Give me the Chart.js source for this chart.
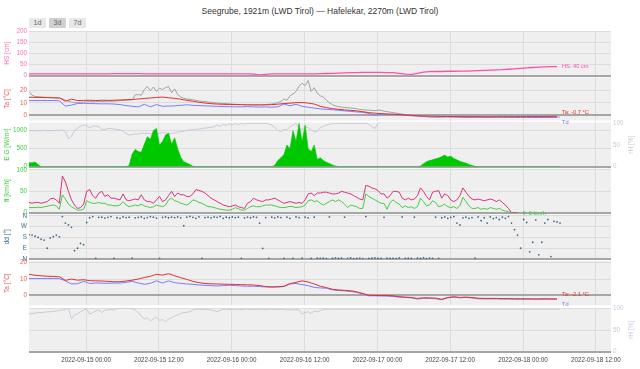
<!DOCTYPE html>
<html>
<head>
<meta charset="utf-8">
<script src="https://cdn.jsdelivr.net/npm/chart.js@4.4.0/dist/chart.umd.min.js"></script>
<style>
  body { margin: 0; background: #fff; font-family: "Liberation Sans", Arial, sans-serif; }
  #wrap { position: relative; width: 640px; height: 369px; overflow: hidden; }
  #title { position: absolute; left: 0; top: 6px; width: 640px; line-height: 10px; text-align: center; font-size: 8.5px; color: #333; }
  .btn { position: absolute; top: 18px; width: 17px; height: 10px; line-height: 10px; font-size: 7px; text-align: center; color: #666; background: #e8e8e8; border-radius: 1px; }
  canvas { position: absolute; left: 0; }
</style>
</head>
<body>
<div id="wrap">
  <div id="title">Seegrube, 1921m (LWD Tirol) — Hafelekar, 2270m (LWD Tirol)</div>
  <div class="btn" style="left:29px">1d</div>
  <div class="btn" style="left:49px;background:#d0d0d0">3d</div>
  <div class="btn" style="left:69px">7d</div>
</div>
<script>
// Time axis: hours relative to 2022-09-15 00:00
const X_MIN = -9.4, X_MAX = 86.5;
const START = -9.4;
const xTicks = [0, 12, 24, 36, 48, 60, 72, 84];
const xTickLabels = ['2022-09-15 00:00', '2022-09-15 12:00', '2022-09-16 00:00', '2022-09-16 12:00',
                     '2022-09-17 00:00', '2022-09-17 12:00', '2022-09-18 00:00', '2022-09-18 12:00'];
const hourly = Array.from({ length: 88 }, (_, i) => START + i);
const halfHourly = Array.from({ length: 176 }, (_, i) => START + i * 0.5);

// ---- hourly series ----
const hs = [
  7,7,7,7,7,7,7,7,7,7,
  7,7,7,7,8,8,8,8,8,7,
  7,7,7,7,7,7,7,7,7,7,
  7,7,7,7,7,7,7,6,3,5,
  7,7,7,7,7,7,7,7,8,9,
  10,11,12,13,13,14,14,14,14,13,
  13,10,6,5,10,15,17,18,18,19,
  19,20,20,21,22,23,24,25,26,28,
  30,32,34,36,38,39,40,40
];
const taSee = [
  14.4,14.3,14.2,14.1,14.0,13.9,11.3,12.8,11.8,11.9,
  12.0,11.8,12.0,11.9,12.0,12.2,12.4,12.6,13.0,13.4,
  13.8,14.2,14.5,14.0,13.5,12.8,12.0,11.2,10.4,9.8,
  9.3,9.0,8.8,8.7,8.6,8.5,8.4,8.4,8.3,8.4,
  8.5,8.9,9.4,9.7,10.1,10.2,9.8,9.0,7.2,6.2,
  5.4,4.8,4.4,4.0,3.6,3.0,2.2,1.8,1.4,1.2,
  1.0,0.8,0.4,0.0,-0.3,-0.5,-0.6,-0.7,-0.8,-0.8,
  -0.9,-0.9,-1.0,-1.0,-1.0,-1.1,-1.1,-1.0,-1.0,-1.0,
  -1.0,-0.9,-0.9,-0.8,-0.8,-0.8,-0.7,-0.7
];
const tdSee = [
  11.8,11.8,11.8,11.8,11.8,11.6,7.4,8.2,9.4,9.6,
  9.4,9.3,9.2,9.2,9.0,8.6,7.8,7.2,6.8,8.8,
  6.8,8.6,7.2,7.4,7.6,8.0,8.4,8.0,7.8,7.6,
  7.4,7.2,7.0,6.9,6.8,6.8,7.0,6.8,6.6,6.8,
  6.5,6.8,9.0,7.6,8.8,7.2,6.5,5.8,5.2,4.8,
  4.5,4.1,3.6,3.2,2.8,2.4,1.6,0.0,1.2,0.8,
  0.6,0.4,0.1,-0.2,-0.5,-0.8,-1.2,-1.4,-1.3,-1.2,
  -1.3,-1.4,-1.5,-1.4,-1.4,-1.5,-1.5,-1.4,-1.5,-1.5,
  -1.5,-1.6,-1.5,-1.6,-1.6,-1.6,-1.6,-1.6
];
const taHaf = [
  12.9,12.3,12.0,11.7,11.6,11.4,9.2,10.0,9.3,9.6,
  9.0,8.9,8.8,8.6,8.3,8.4,8.8,9.3,10.0,10.9,
  11.7,12.9,12.4,13.3,12.0,10.8,9.8,8.6,7.8,7.3,
  7.1,7.0,6.9,6.8,6.7,6.6,6.5,6.4,6.0,5.4,
  5.2,5.3,5.6,7.2,8.0,8.9,8.2,7.0,5.6,4.8,
  3.8,3.4,3.1,2.9,2.2,1.2,0.1,0.0,0.0,0.0,
  -0.2,-0.8,-1.0,-1.2,-1.8,-1.4,-1.5,-1.6,-2.3,-1.2,
  -0.8,-1.2,-1.0,-1.3,-1.7,-1.8,-1.8,-1.8,-1.9,-1.9,
  -2.0,-2.0,-2.0,-2.1,-2.1,-2.0,-2.1,-2.1
];
const tdHaf = [
  10.3,10.3,10.3,10.3,10.3,10.3,8.9,7.0,7.2,8.6,
  7.3,7.6,7.5,7.4,7.6,7.5,8.0,8.6,7.6,6.8,
  7.4,8.9,7.6,8.9,7.8,7.4,7.0,6.8,6.4,6.2,
  6.0,5.8,6.0,6.2,6.0,5.8,5.6,5.6,5.4,5.2,
  5.1,5.2,5.4,7.0,7.3,6.6,6.0,4.9,4.6,4.4,
  3.4,3.0,2.8,2.4,1.9,0.9,-0.2,-0.2,-0.3,-0.4,
  -0.6,-1.0,-1.2,-1.5,-2.2,-1.7,-1.8,-2.0,-2.6,-1.5,
  -1.0,-1.4,-1.2,-1.5,-2.0,-2.1,-2.1,-2.1,-2.2,-2.2,
  -2.3,-2.3,-2.3,-2.3,-2.3,-2.3,-2.3,-2.3
];

// ---- half-hourly series (rows of 12 h) ----
const tGray = [
  19,16,15,14.8,14.6,14.4,14.3,14.2,14,13.8,13.6,13.2, 12,11.2,10.6,10,10.2,10.4,10.6,10.8,11,10.8,11,11.2,
  11,11.2,11.4,11.2,11.4,11.6,11.8,11.8,12,12.2,12.4,16.3, 16.5,16,20.5,22.8,19.5,22.5,19,21.5,20.5,22,22.8,18,
  21,16.5,14.5,13.5,13,12.8,12.4,12,11.5,11.2,11,10.6, 10.3,10,9.8,9.6,9.5,9.3,9.2,9,8.8,8.7,8.6,8.5,
  8.4,8.4,8.4,8.3,8.4,8.5,8.6,8.8,9,9.5,10.2,11, 13,12,15.5,17,19,23,25.4,23.5,27.6,19,22,17.5,
  15.5,14.5,12,10,8.6,7.5,7,6.6,6.4,6.2,5.8,5.6, 5.2,4.8,4.5,4.3,4.2,4,3.8,4.2,4,3.4,3,2.6,
  2.2,1.8,1.4,1,0.6,0.3,0.1,0,-0.1,-0.2,-0.2,-0.3, -0.3,-0.4,-0.4,-0.5,-0.5,-0.5,-0.6,-0.6,-0.6,-0.7,-0.7,-0.7,
  -0.8,-0.8,-0.8,-0.8,-0.9,-0.9,-0.9,-0.9,-0.9,-1,-1,-1, -1,-1,-1,-1.1,-1.1,-1.1,-1.1,-1.2,-1.2,-1.2,-1.2,-1.2,
  -1.2,-1.3,-1.3,-1.3,-1.3,-1.3,-1.3,-1.3
];
const glob = [
  110,110,130,60,0,0,0,0,0,0,0,0, 0,0,0,0,0,0,0,0,0,0,0,0,
  0,0,0,0,0,0,0,0,0,30,350,480, 420,400,620,830,760,1000,1060,600,700,880,930,620,
  800,500,260,140,100,60,15,0,0,0,0,0, 0,0,0,0,0,0,0,0,0,0,0,0,
  0,0,0,0,0,0,0,0,0,40,170,250, 330,600,500,1000,700,1200,700,1150,500,420,600,200,
  250,170,120,90,50,20,0,0,0,0,0,0, 0,0,0,0,0,0,0,0,0,0,0,0,
  0,0,0,0,0,0,0,0,0,20,80,140, 170,190,220,240,280,320,270,290,230,190,150,120,
  100,60,30,10,0,0,0,0,0,0,0,0, 0,0,0,0,0,0,0,0,0,0,0,0,
  0,0,0,0,0,0,0,0
];
const rhSee = [
  83,83,83,83,83,84,83,83,83,84,83,85, 80,65,70,84,88,94,96,95,90,93,94,92,
  86,86,88,88,87,86,85,82,77,73,74,76, 75,77,77,77,76,74,75,77,79,78,77,77,
  78,80,81,82,84,85,85,86,87,88,89,90, 91,92,96,93,98,95,99,96,100,97,100,98,
  100,100,100,100,100,100,100,99,96,90,84,81, 86,85,92,96,100,88,86,92,90,85,81,82,
  90,93,96,98,100,100,100,100,100,100,100,100, 100,100,100,100,98,92,88,100,103,103,103,103,
  103,103,103,103,103,103,103,103,103,103,103,103, 103,103,103,103,103,103,103,103,103,103,103,103,
  103,103,103,103,103,103,103,103,103,103,103,103, 103,103,103,103,103,103,103,103,103,103,103,103,
  103,103,103,103,103,103,103,103
];
const gust = [
  24,22,24,24,22,24,26,32,34,30,22,86, 72,50,30,18,10,12,20,50,54,40,34,46,
  50,38,42,34,34,32,30,44,30,28,30,32, 30,42,30,26,26,22,30,38,26,30,40,50,
  38,46,42,42,38,38,44,54,52,50,46,40, 34,30,26,22,18,16,14,16,18,14,12,10,
  22,26,34,30,28,26,30,30,32,34,30,26, 22,24,26,24,22,24,22,30,44,46,40,46,
  46,48,48,46,44,44,46,50,48,46,44,40, 36,32,30,64,62,58,56,52,44,44,34,40,
  50,50,48,34,30,34,30,32,40,58,50,38, 30,48,50,52,34,44,40,30,26,30,40,58,
  48,38,32,30,32,30,28,30,32,30,26,30, 24,18,10,0,0,0,null,null,null,null,null,null,
  null,null,null,null,null,null,null,null
];
const ffMean = [
  12,12,12,13,12,14,15,17,18,16,8,42, 32,20,14,10,6,6,8,28,24,22,22,24,
  22,22,18,18,16,16,18,26,18,14,16,18, 16,20,16,14,12,14,18,16,14,18,30,34,
  28,26,22,20,18,22,30,28,24,22,18,14, 14,12,10,8,7,6,6,8,12,9,6,6,
  10,14,16,14,14,16,18,18,18,16,14,12, 12,13,15,14,12,13,14,18,28,30,26,28,
  22,18,22,26,30,26,30,26,20,12,18,16, 14,10,10,44,38,34,30,26,22,22,8,24,
  30,24,20,12,16,12,14,10,14,34,26,16, 18,28,24,14,16,20,14,12,14,10,16,36,
  26,16,10,10,12,8,10,8,12,10,8,10, 6,4,2,0,0,0,null,null,null,null,null,null,
  null,null,null,null,null,null,null,null
];
const dd = [
  203,200,190,180,165,158,90,175,187,200,185,355, 300,285,265,70,90,130,120,305,345,355,5,348,
  350,342,348,355,5,345,340,352,346,350,8,344, 348,352,340,346,355,350,342,5,348,352,345,350,
  346,352,344,278,350,356,348,340,352,5,346,350, 344,352,348,356,340,350,345,352,346,350,5,344,
  350,345,352,348,300,88,346,5,350,344,352,346, 5,350,340,5,352,346,8,350,344,5,350,8,
  5,8,3,352,6,10,4,7,350,5,9,3, 6,8,2,355,5,7,10,4,6,348,8,5,
  6,3,9,352,5,8,4,350,7,5,10,3, 8,6,350,5,345,352,340,348,355,300,285,344,
  350,340,346,8,352,320,345,300,352,338,346,330, 350,340,355,300,245,200,90,330,305,60,140,325,
  35,140,300,330,20,315,310,300
];
const rhHaf = [
  87,88,89,90,90,91,92,92,93,94,95,96, 97,100,75,85,87,92,96,98,87,90,94,96,
  90,96,96,97,96,99,100,100,100,100,99,96, 90,82,75,78,71,76,79,72,74,69,75,79,
  82,85,88,90,91,92,96,98,98,97,98,97, 96,95,92,95,98,98,97,98,97,98,97,98,
  98,97,98,97,98,98,97,98,98,97,97,98, 97,96,97,96,97,96,87,90,92,88,94,92,
  95,97,98,98,98,98,98,98,98,98,98,98, 98,98,98,98,98,98,98,98,98,98,98,98,
  98,98,98,98,98,98,98,98,98,98,98,98, 98,98,98,98,98,98,98,98,98,98,98,98,
  98,98,98,98,98,98,98,98,98,98,98,98, 98,98,98,98,98,98,98,98,98,98,98,98,
  98,98,98,98,98,98,98,98
];

// tick values per panel
const hsTicks = [0, 50, 100, 150, 200];
const taTicks = [0, 10, 20];
const gTicks = [0, 500, 1000];
const rhTicks = [0, 50, 100];
const ffTicks = [0, 50, 100];
const ddTicks = [0, 90, 180, 270, 360];
const ddTickLabels = ['N', 'E', 'S', 'W', 'N'];

const PINK = '#ff4fae', RED = '#e2302a', BLUE = '#7b7bff', GRAY = '#a2a2a2';
const GREEN = '#00c800', GREEN_TXT = '#3fcf3f', DD = '#3d6b8b', RH = '#c9c9da';

Chart.defaults.font.family = '"Liberation Sans", Arial, sans-serif';

const wrap = document.getElementById('wrap');
const pts = (times, vals) => vals.map((v, i) => ({ x: times[i], y: v }));

function xAxis(showLabels, h) {
  return {
    type: 'linear', min: X_MIN, max: X_MAX,
    afterBuildTicks: s => { s.ticks = xTicks.map(v => ({ value: v })); },
    afterFit: s => { s.height = h; },
    ticks: { display: showLabels, color: '#444', font: { size: 6.3 }, padding: 4.5, maxRotation: 0, autoSkip: false,
             callback: (v, i) => xTickLabels[i] },
    grid: { drawTicks: false, color: '#dcdcdc', lineWidth: 1 },
    border: { display: false }
  };
}

function yAxis(o) {
  return {
    type: 'linear', position: o.position || 'left', min: o.min, max: o.max,
    afterFit: s => { s.width = 29; },
    afterBuildTicks: s => { s.ticks = o.ticks.map(v => ({ value: v })); },
    ticks: { color: o.color, font: { size: 6.3 }, padding: 2, callback: o.labels ? (v, i) => o.labels[i] : v => v },
    grid: {
      display: o.grid !== false, drawTicks: false,
      color: c => (c.tick && c.tick.value === 0) ? '#a6a6a6' : '#dcdcdc',
      lineWidth: c => (c.tick && c.tick.value === 0) ? 2 : 1
    },
    border: { display: false },
    title: o.title ? { display: true, text: o.title, color: o.color, font: { size: 6.5 }, padding: { top: 3, bottom: 0 } }
                   : { display: false }
  };
}

function panelPlugin(cfg) {
  return {
    id: 'panel',
    beforeDraw(chart) {
      const a = chart.chartArea, c = chart.ctx;
      c.save();
      c.fillStyle = '#efefef';
      c.fillRect(a.left, a.top, a.right - a.left, a.bottom - a.top);
      c.restore();
    },
    afterDatasetsDraw(chart) {
      const c = chart.ctx;
      c.save();
      c.font = '5.7px "Liberation Sans", Arial, sans-serif';
      c.textBaseline = 'middle';
      c.textAlign = 'left';
      (cfg.endLabels || []).forEach(l => {
        const ds = chart.data.datasets[l.ds];
        const meta = chart.getDatasetMeta(l.ds);
        let idx = -1;
        ds.data.forEach((p, i) => { if (p.y !== null) idx = i; });
        if (idx < 0) return;
        const el = meta.data[idx];
        c.fillStyle = l.color;
        c.fillText(l.text(ds.data[idx].y), el.x + 5, el.y + l.dy);
      });
      if (cfg.rightTitle) {
        const a = chart.chartArea;
        c.font = '6.5px "Liberation Sans", Arial, sans-serif';
        c.fillStyle = RH;
        c.textAlign = 'center';
        c.translate(631, (a.top + a.bottom) / 2);
        c.rotate(-Math.PI / 2);
        c.fillText(cfg.rightTitle, 0, 0);
      }
      c.restore();
    }
  };
}

function makePanel(cfg) {
  const cTop = Math.floor(cfg.top) - 6;
  const cBottom = cfg.xLabels ? 369 : Math.ceil(cfg.bottom) + 6;
  const canvas = document.createElement('canvas');
  canvas.width = 640;
  canvas.height = cBottom - cTop;
  canvas.style.top = cTop + 'px';
  canvas.style.zIndex = cfg.z;
  wrap.appendChild(canvas);
  const scales = Object.assign({ x: xAxis(!!cfg.xLabels, cfg.xLabels ? cBottom - cfg.bottom : 0) }, cfg.scales);
  return new Chart(canvas, {
    type: cfg.type || 'line',
    data: { datasets: cfg.datasets },
    options: {
      responsive: false, animation: false, devicePixelRatio: 1, events: [],
      layout: { padding: {
        top: cfg.top - cTop,
        bottom: cfg.xLabels ? 0 : cBottom - cfg.bottom,
        left: cfg.noLeft ? 29 : 0,
        right: cfg.hasRight ? 0 : 29
      } },
      plugins: { legend: { display: false }, tooltip: { enabled: false } },
      elements: { point: { radius: 0 }, line: { tension: 0 } },
      scales
    },
    plugins: [panelPlugin(cfg)]
  });
}

// 1. snow height
makePanel({
  top: 31, bottom: 75.5, z: 20,
  datasets: [{ data: pts(hourly, hs), borderColor: PINK, borderWidth: 1.3 }],
  scales: { y: yAxis({ min: 0, max: 200, ticks: hsTicks, color: '#ff6fb8', title: 'HS [cm]' }) },
  endLabels: [{ ds: 0, color: PINK, dy: 0, text: v => 'HS: ' + v + ' cm' }]
});

// 2. Seegrube temperature
makePanel({
  top: 77.5, bottom: 120.5, z: 19,
  datasets: [
    { data: pts(hourly, taSee), borderColor: RED, borderWidth: 1 },
    { data: pts(hourly, tdSee), borderColor: BLUE, borderWidth: 1 },
    { data: pts(halfHourly, tGray), borderColor: GRAY, borderWidth: 1 }
  ],
  scales: { y: yAxis({ min: -4, max: 30, ticks: taTicks, color: '#e65a5a', title: 'Ta [°C]' }) },
  endLabels: [
    { ds: 0, color: RED, dy: -3.5, text: v => 'Ta: ' + v.toFixed(1) + ' °C' },
    { ds: 1, color: BLUE, dy: 4.5, text: () => 'Td' }
  ]
});

// 3. global radiation + humidity
makePanel({
  top: 122.5, bottom: 166.7, z: 18, hasRight: true, rightTitle: 'rH [%]',
  datasets: [
    { data: pts(halfHourly, glob), borderColor: GREEN, backgroundColor: GREEN, borderWidth: 0.6, fill: 'origin' },
    { data: pts(halfHourly, rhSee), borderColor: RH, borderWidth: 1, yAxisID: 'y2' }
  ],
  scales: {
    y: yAxis({ min: 0, max: 1225, ticks: gTicks, color: GREEN_TXT, title: 'E G [W/m²]' }),
    y2: yAxis({ min: 0, max: 102, ticks: rhTicks, color: RH, position: 'right', grid: false })
  }
});

// 4. wind speed
makePanel({
  top: 168.5, bottom: 212.7, z: 17,
  datasets: [
    { data: pts(halfHourly, gust), borderColor: '#d8337c', borderWidth: 1 },
    { data: pts(halfHourly, ffMean), borderColor: '#46cc46', borderWidth: 1 }
  ],
  scales: { y: yAxis({ min: 0, max: 103.5, ticks: ffTicks, color: GREEN_TXT, title: 'ff [km/h]' }) },
  endLabels: [{ ds: 1, color: GREEN_TXT, dy: 0.5, text: v => 'ff: ' + v + ' km/h' }]
});

// 5. wind direction
makePanel({
  top: 214.5, bottom: 259, z: 16, type: 'scatter',
  datasets: [{ data: pts(halfHourly, dd), showLine: false, pointRadius: 0.9, pointBorderWidth: 0,
               pointBackgroundColor: DD, backgroundColor: DD, borderColor: DD }],
  scales: { y: yAxis({ min: 0, max: 372, ticks: ddTicks, labels: ddTickLabels, color: DD, title: 'dd [°]' }) }
});

// 6. Hafelekar temperature
makePanel({
  top: 261, bottom: 305.3, z: 15,
  datasets: [
    { data: pts(hourly, taHaf), borderColor: RED, borderWidth: 1 },
    { data: pts(hourly, tdHaf), borderColor: BLUE, borderWidth: 1 }
  ],
  scales: { y: yAxis({ min: -6, max: 21, ticks: taTicks, color: '#e65a5a', title: 'Ta [°C]' }) },
  endLabels: [
    { ds: 0, color: RED, dy: -4.5, text: v => 'Ta: ' + v.toFixed(1) + ' °C' },
    { ds: 1, color: BLUE, dy: 5, text: () => 'Td' }
  ]
});

// 7. Hafelekar humidity + time axis
makePanel({
  top: 308.3, bottom: 351.7, z: 14, noLeft: true, hasRight: true, xLabels: true, rightTitle: 'rH [%]',
  datasets: [{ data: pts(halfHourly, rhHaf), borderColor: RH, borderWidth: 1 }],
  scales: { y: yAxis({ min: 0, max: 100, ticks: rhTicks, color: RH, position: 'right' }) }
});
</script>
</body>
</html>
